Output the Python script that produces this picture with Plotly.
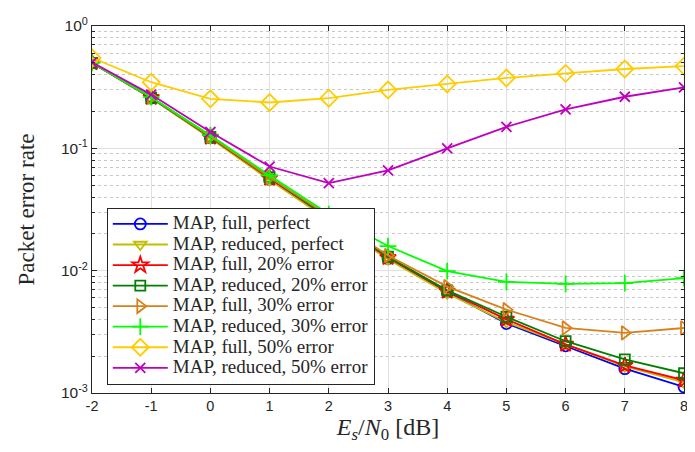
import plotly.graph_objects as go

snr_db = [-2, -1, 0, 1, 2, 3, 4, 5, 6, 7, 8]
x_ticktext = ["-2", "-1", "0", "1", "2", "3", "4", "5", "6", "7", "8"]

map_full_perfect = [0.50, 0.258, 0.122, 0.056, 0.026, 0.0126, 0.0067, 0.0037, 0.00243, 0.00158, 0.00112]
map_reduced_perfect = [0.50, 0.258, 0.121, 0.055, 0.026, 0.0124, 0.0065, 0.0038, 0.0025, 0.00165, 0.00122]
map_full_20 = [0.50, 0.26, 0.123, 0.057, 0.027, 0.0128, 0.0068, 0.0040, 0.0025, 0.00168, 0.00127]
map_reduced_20 = [0.50, 0.26, 0.124, 0.058, 0.027, 0.0130, 0.0069, 0.0042, 0.00265, 0.00188, 0.00145]
map_full_30 = [0.50, 0.262, 0.125, 0.058, 0.028, 0.0133, 0.0074, 0.0048, 0.0034, 0.0031, 0.0034]
map_reduced_30 = [0.50, 0.262, 0.128, 0.060, 0.029, 0.0159, 0.0099, 0.0081, 0.0078, 0.0079, 0.0087]
map_full_50 = [0.55, 0.347, 0.254, 0.237, 0.257, 0.30, 0.336, 0.376, 0.41, 0.445, 0.47]
map_reduced_50 = [0.505, 0.275, 0.136, 0.071, 0.052, 0.066, 0.10, 0.15, 0.208, 0.264, 0.315]

series_names = [
    "MAP, full, perfect",
    "MAP, reduced, perfect",
    "MAP, full, 20% error",
    "MAP, reduced, 20% error",
    "MAP, full, 30% error",
    "MAP, reduced, 30% error",
    "MAP, full, 50% error",
    "MAP, reduced, 50% error",
]
series_values = [map_full_perfect, map_reduced_perfect, map_full_20, map_reduced_20,
                 map_full_30, map_reduced_30, map_full_50, map_reduced_50]
colors = ["#0000FF", "#BFBF00", "#FF0000", "#008000", "#D9801A", "#00FF00", "#FFCC00", "#BF00BF"]
symbols = ["circle-open", "triangle-down-open", "star-open", "square-open",
           "triangle-right-open", "cross-thin-open", "diamond-open", "x-thin-open"]
sizes = [11, 11, 12, 10, 12, 12, 13, 10]

y_tickvals = [1e-3, 1e-2, 1e-1, 1]
y_ticktext = ["10<sup>-3</sup>", "10<sup>-2</sup>", "10<sup>-1</sup>", "10<sup>0</sup>"]
y_minor_vals = [k * 10 ** e for e in (-3, -2, -1) for k in range(2, 10)]

fig = go.Figure()
for name, vals, c, s, sz in zip(series_names, series_values, colors, symbols, sizes):
    fig.add_trace(go.Scatter(
        x=snr_db, y=vals, name="<span style='font-size:19px'>" + name + "</span>",
        mode="lines+markers",
        line=dict(color=c, width=1.8),
        marker=dict(symbol=s, size=sz, color=c, line=dict(color=c, width=1.8)),
    ))

# page body adds an 8px offset, so the figure is 8px smaller than the window
fig.update_layout(
    width=687, height=444,
    margin=dict(l=84, r=7, t=11, b=59),
    paper_bgcolor="white", plot_bgcolor="white",
    showlegend=True,
    legend=dict(
        x=0.025, y=0.505, xanchor="left", yanchor="top",
        bgcolor="white", bordercolor="#262626", borderwidth=1,
        font=dict(family="Liberation Serif", size=13.5, color="#262626"),
        tracegroupgap=0, itemsizing="trace", itemwidth=55,
    ),
    font=dict(family="Liberation Sans", color="#262626"),
)

fig.update_xaxes(
    range=[-2, 8], tickvals=snr_db, ticktext=x_ticktext,
    ticks="inside", ticklen=5, tickcolor="#262626",
    showline=True, linecolor="#262626", linewidth=1, mirror="ticks",
    showgrid=True, gridcolor="#E0E0E0", gridwidth=1, zeroline=False,
    tickfont=dict(family="Liberation Sans", size=14.5, color="#262626"),
    title=dict(text="<i>E</i><sub><i>s</i></sub>/<i>N</i><sub>0</sub> [dB]",
               font=dict(family="Liberation Serif", size=24, color="#262626"), standoff=4),
)
fig.update_yaxes(
    type="log", range=[-3, 0], tickvals=y_tickvals, ticktext=y_ticktext,
    ticks="inside", ticklen=5, tickcolor="#262626", ticklabeloverflow="allow",
    showline=True, linecolor="#262626", linewidth=1, mirror="ticks",
    showgrid=True, gridcolor="#E0E0E0", gridwidth=1, zeroline=False,
    tickfont=dict(family="Liberation Sans", size=15.5, color="#262626"),
    minor=dict(ticks="inside", ticklen=3, tickcolor="#262626", showgrid=True,
               gridcolor="#C8C8C8", griddash="dot", gridwidth=1,
               tickvals=y_minor_vals),
    title=dict(text="Packet error rate",
               font=dict(family="Liberation Serif", size=23, color="#262626"), standoff=19),
)

fig.write_html("out.html")
